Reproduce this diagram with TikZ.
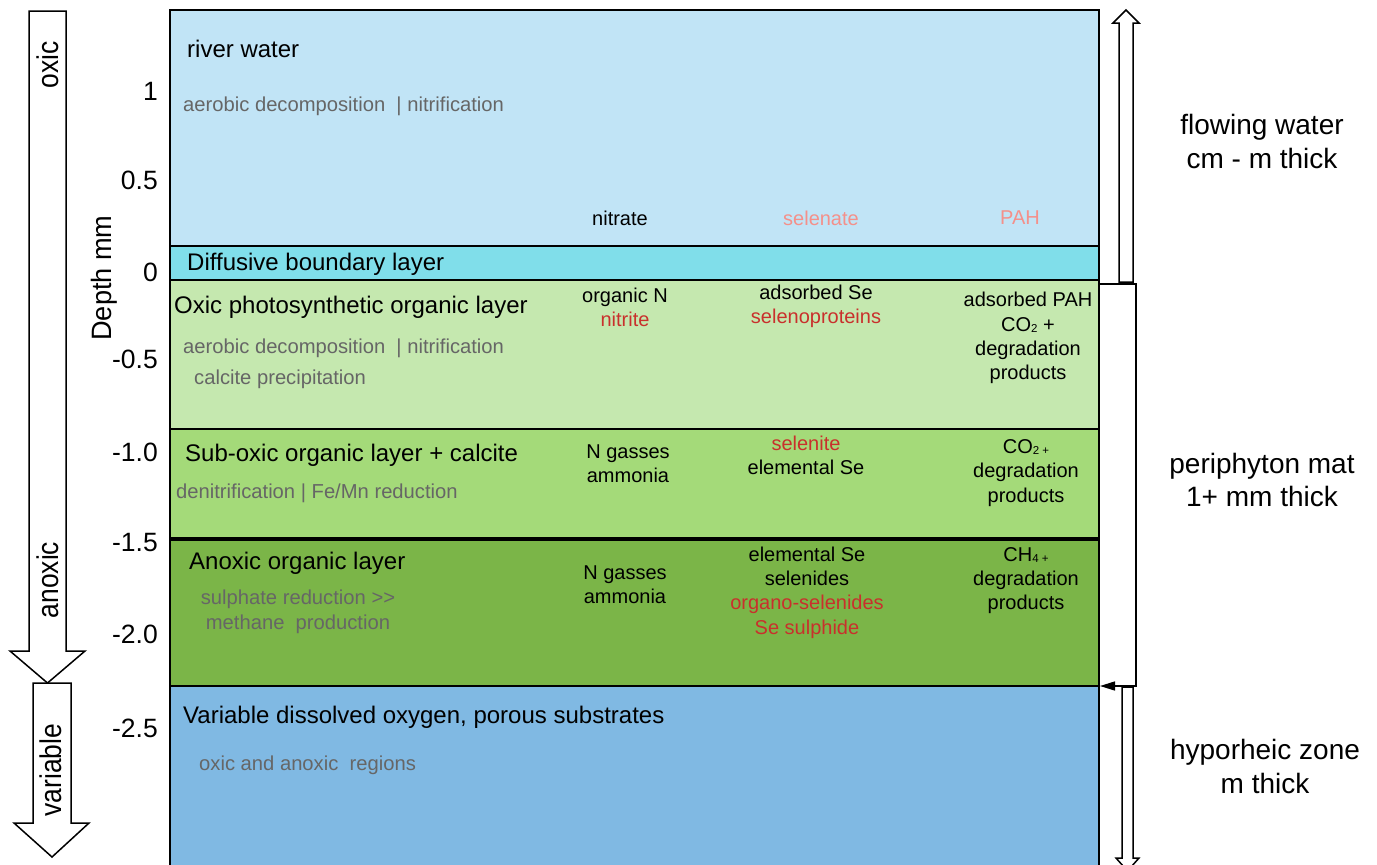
\documentclass[tikz,border=0pt]{standalone}
\usepackage{fontspec}
\setmainfont{Liberation Sans}
\usetikzlibrary{arrows.meta}
\definecolor{riverc}{HTML}{C1E4F6}
\definecolor{dblc}{HTML}{80DEEA}
\definecolor{oxicc}{HTML}{C5E8AF}
\definecolor{suboxc}{HTML}{A4DA79}
\definecolor{anoxc}{HTML}{7BB548}
\definecolor{hypoc}{HTML}{80B9E3}
\definecolor{redt}{HTML}{C9302C}
\definecolor{salmont}{HTML}{F4908A}
\definecolor{grayt}{HTML}{666666}
\newcommand{\sbs}[1]{\raisebox{-1pt}{\fontsize{11.5}{11.5}\selectfont #1}}
\tikzset{
  layer/.style={draw=black, line width=1.5pt},
  hollow/.style={draw=black, fill=white, line width=1.5pt, line join=miter},
  layertitle/.style={font=\fontsize{24}{28}\selectfont, anchor=west, inner sep=0pt, yshift=-2pt},
  proc/.style={font=\fontsize{20.2}{24.5}\selectfont, text=grayt, anchor=west, inner sep=0pt, yshift=-2pt},
  chem/.style={font=\fontsize{20}{24.3}\selectfont, align=center, inner sep=0pt, yshift=-2pt},
  zone/.style={font=\fontsize{28}{33.5}\selectfont, align=center, inner sep=0pt},
  ticklab/.style={font=\fontsize{26.5}{28}\selectfont, anchor=east, inner sep=0pt},
  arrlab/.style={font=\fontsize{30}{30}\selectfont, rotate=90, inner sep=0pt},
}
\begin{document}
\begin{tikzpicture}[x=1pt,y=-1pt]
\useasboundingbox (0,0) rectangle (1377,865);
% layers
\filldraw[layer, fill=riverc] (170,10) rectangle (1099,246);
\filldraw[layer, fill=dblc] (170,246) rectangle (1099,280);
\filldraw[layer, fill=oxicc] (170,280) rectangle (1099,429);
\filldraw[layer, fill=suboxc] (170,429) rectangle (1099,538);
\filldraw[layer, fill=anoxc] (170,540) rectangle (1099,686);
\filldraw[layer, fill=hypoc] (170,686) rectangle (1099,885);
% layer titles and processes
\node[layertitle] (t1) at (187,47) {river water};
\node[proc] (p1) at (183,104) {aerobic decomposition \ | nitrification};
\node[layertitle] (t2) at (187,262) {Diffusive boundary layer};
\node[layertitle] (t3) at (174,305) {Oxic photosynthetic organic layer};
\node[proc] (p3a) at (183,346) {aerobic decomposition \ | nitrification};
\node[proc] (p3b) at (194,377) {calcite precipitation};
\node[layertitle] (t4) at (185,453) {Sub-oxic organic layer + calcite};
\node[proc] (p4) at (176,491) {denitrification | Fe/Mn reduction};
\node[layertitle] (t5) at (189,561) {Anoxic organic layer};
\node[proc, anchor=center, align=center] (p5) at (298,610) {sulphate reduction {>}{>}\\methane \ production};
\node[layertitle] (t6) at (183,715) {Variable dissolved oxygen, porous substrates};
\node[proc] (p6) at (199,763) {oxic and anoxic \ regions};
% chemistry columns
\node[chem] (c1a) at (620,216) {nitrate};
\node[chem, text=salmont] (c1b) at (821,216) {selenate};
\node[chem, text=salmont] (c1c) at (1020,216) {PAH};
\node[chem] (c2a) at (625,305) {organic N\\\textcolor{redt}{nitrite}};
\node[chem] (c2b) at (816,304) {adsorbed Se\\\textcolor{redt}{selenoproteins}};
\node[chem] (c2c) at (1028,336) {adsorbed PAH\\CO\sbs{2} +\\degradation\\products};
\node[chem] (c3a) at (628,462) {N gasses\\ammonia};
\node[chem] (c3b) at (806,453.5) {\textcolor{redt}{selenite}\\elemental Se};
\node[chem] (c3c) at (1026,471) {CO\sbs{2 +}\\degradation\\products};
\node[chem] (c4a) at (625,583) {N gasses\\ammonia};
\node[chem] (c4b) at (807,590.5) {elemental Se\\selenides\\\textcolor{redt}{organo-selenides}\\\textcolor{redt}{Se sulphide}};
\node[chem] (c4c) at (1026,578.5) {CH\sbs{4 +}\\degradation\\products};
% depth axis
\node[ticklab] (k1) at (158,91) {1};
\node[ticklab] (k2) at (158,180) {0.5};
\node[ticklab] (k3) at (158,272) {0};
\node[ticklab] (k4) at (158,359) {-0.5};
\node[ticklab] (k5) at (158,452) {-1.0};
\node[ticklab] (k6) at (158,543) {-1.5};
\node[ticklab] (k7) at (158,634) {-2.0};
\node[ticklab] (k8) at (158,728) {-2.5};
\node[font=\fontsize{28}{28}\selectfont, rotate=90, inner sep=0pt] (depth) at (104,278) {\scalebox{0.97}[1]{Depth mm}};
% left arrows
\draw[hollow] (29,11) -- (29,651) -- (10,651) -- (47.5,683) -- (85,651) -- (66,651) -- (66,11) -- cycle;
\draw[hollow] (33,683) -- (33,823) -- (14,823) -- (52,857) -- (89,823) -- (71,823) -- (71,683) -- cycle;
\node[arrlab] (ox) at (48,65) {\scalebox{0.88}[1]{oxic}};
\node[arrlab] (anox) at (48,580) {\scalebox{0.88}[1]{anoxic}};
\node[arrlab] (var) at (51,770) {\scalebox{0.88}[1]{variable}};
% right arrows
\draw[hollow] (1119,282) -- (1119,23) -- (1113,23) -- (1126,10) -- (1139,23) -- (1133,23) -- (1133,282) -- cycle;
\draw[hollow] (1122,687) -- (1122,858) -- (1116,858) -- (1127.5,871) -- (1139,858) -- (1133,858) -- (1133,687) -- cycle;
\coordinate (bA) at (1098,284);
\coordinate (bB) at (1136,284);
\coordinate (bC) at (1136,686);
\coordinate (bD) at (1100,686);
\draw[line width=1.5pt, -{Triangle[length=15pt,width=9pt]}] (bA) -- (bB) -- (bC) -- (bD);
% zone labels
\node[zone] (z1) at (1262,141.5) {flowing water\\cm - m thick};
\node[zone] (z2) at (1262,480) {periphyton mat\\1+ mm thick};
\node[zone] (z3) at (1265,766.5) {hyporheic zone\\m thick};
\end{tikzpicture}
\end{document}
